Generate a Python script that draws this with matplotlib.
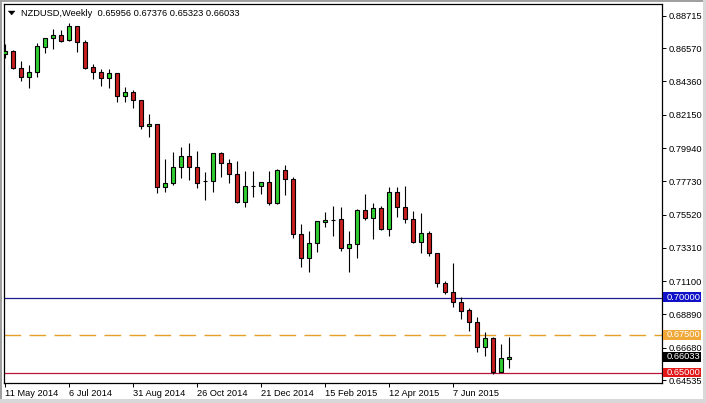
#!/usr/bin/env python3
# -*- coding: utf-8 -*-
"""NZDUSD weekly candles, MT4 style, with three horizontal levels."""
import matplotlib
matplotlib.use("Agg")
import matplotlib.pyplot as plt
import matplotlib.transforms as mtransforms
from matplotlib.patches import Rectangle, Polygon

plt.rcParams["font.family"] = ["Liberation Sans", "DejaVu Sans"]

# weekly OHLC (week 0 = 11 May 2014)
opens = [0.8616, 0.8638, 0.8523, 0.8467, 0.8501, 0.8667, 0.8722, 0.8742, 0.8709, 0.8802,
         0.8696, 0.8530, 0.8501, 0.8457, 0.8490, 0.8337, 0.8364, 0.8311, 0.8138, 0.8151,
         0.7737, 0.7760, 0.7866, 0.7941, 0.7866, 0.7776, 0.7777, 0.7959, 0.7892, 0.7819,
         0.7637, 0.7741, 0.7742, 0.7766, 0.7627, 0.7848, 0.7786, 0.7423, 0.7262, 0.7361,
         0.7501, 0.7515, 0.7521, 0.7328, 0.7355, 0.7582, 0.7531, 0.7594, 0.7454, 0.7700,
         0.7604, 0.7521, 0.7372, 0.7428, 0.7295, 0.7100, 0.7040, 0.6969, 0.6918, 0.6837,
         0.6675, 0.6730, 0.6509, 0.65956]
highs = [0.8683, 0.8645, 0.8572, 0.8545, 0.8689, 0.8726, 0.8784, 0.8776, 0.8822, 0.8806,
         0.8709, 0.8552, 0.8519, 0.8517, 0.8494, 0.8399, 0.8379, 0.8316, 0.8218, 0.8153,
         0.7921, 0.7967, 0.8003, 0.8025, 0.7974, 0.7833, 0.7963, 0.7965, 0.7921, 0.7908,
         0.7843, 0.7843, 0.7768, 0.7841, 0.7853, 0.7881, 0.7803, 0.7489, 0.7443, 0.7511,
         0.7567, 0.7609, 0.7604, 0.7443, 0.7587, 0.7689, 0.7627, 0.7607, 0.7735, 0.7735,
         0.7742, 0.7576, 0.7562, 0.7441, 0.7299, 0.7111, 0.7228, 0.7003, 0.6934, 0.6874,
         0.6770, 0.6737, 0.6691, 0.67376]
lows = [0.8590, 0.8517, 0.8441, 0.8390, 0.8467, 0.8627, 0.8649, 0.8700, 0.8707, 0.8633,
        0.8519, 0.8450, 0.8408, 0.8394, 0.8301, 0.8297, 0.8258, 0.8118, 0.8065, 0.7693,
        0.7704, 0.7750, 0.7797, 0.7782, 0.7730, 0.7649, 0.7704, 0.7799, 0.7760, 0.7631,
        0.7600, 0.7671, 0.7687, 0.7616, 0.7622, 0.7682, 0.7394, 0.7206, 0.7173, 0.7305,
        0.7471, 0.7412, 0.7313, 0.7171, 0.7266, 0.7518, 0.7388, 0.7452, 0.7410, 0.7533,
        0.7499, 0.7365, 0.7299, 0.7275, 0.7069, 0.7023, 0.6940, 0.6857, 0.6781, 0.6641,
        0.6613, 0.6493, 0.6507, 0.65323]
closes = [0.8638, 0.8523, 0.8467, 0.8501, 0.8669, 0.8722, 0.8742, 0.8706, 0.8802, 0.8696,
          0.8527, 0.8501, 0.8457, 0.8490, 0.8337, 0.8364, 0.8311, 0.8140, 0.8153, 0.7737,
          0.7760, 0.7866, 0.7941, 0.7870, 0.7764, 0.7778, 0.7959, 0.7892, 0.7819, 0.7635,
          0.7742, 0.7743, 0.7766, 0.7627, 0.7848, 0.7786, 0.7423, 0.7262, 0.7361, 0.7509,
          0.7516, 0.7517, 0.7328, 0.7355, 0.7582, 0.7531, 0.7594, 0.7454, 0.7700, 0.7604,
          0.7521, 0.7372, 0.7428, 0.7295, 0.7100, 0.7040, 0.6969, 0.6914, 0.6837, 0.6675,
          0.6730, 0.6509, 0.6598, 0.66033]

date_weeks = [0, 8, 16, 24, 32, 40, 48, 56]
date_labels = ["11 May 2014", "6 Jul 2014", "31 Aug 2014", "26 Oct 2014",
               "21 Dec 2014", "15 Feb 2015", "12 Apr 2015", "7 Jun 2015"]
price_ticks = [0.88715, 0.86570, 0.84360, 0.82150, 0.79940, 0.77730,
               0.75520, 0.73310, 0.71100, 0.68890, 0.66680, 0.64535]
level_blue = 0.70
level_orange = 0.675
level_red = 0.65

GREEN = "#2fcf2f"
RED = "#c81e1e"
FS = 6.7

W, H = 706, 403
fig = plt.figure(figsize=(W / 100, H / 100), dpi=100)
fig.patch.set_facecolor("white")
ax = fig.add_axes([4 / W, 1 - 383 / H, (662 - 4) / W, (383 - 4) / H])

n = len(opens)
xs = list(range(n))

# wicks then bodies
ax.vlines(xs, lows, highs, color="black", lw=0.8, zorder=2)
bottoms = [min(o, c) for o, c in zip(opens, closes)]
heights = [max(abs(c - o), 0.00004) for o, c in zip(opens, closes)]
colors = [GREEN if c >= o else RED for o, c in zip(opens, closes)]
ax.bar(xs, heights, bottom=bottoms, width=0.62, color=colors,
       edgecolor="black", linewidth=0.8, zorder=3)

# horizontal levels
ax.axhline(level_blue, color="#1c1c8c", lw=0.9, zorder=1)
ax.axhline(level_orange, color="#e4a028", lw=1.0, zorder=1,
           linestyle=(0, (12, 6)))
ax.axhline(level_red, color="#b8163a", lw=0.9, zorder=1)

ax.set_xlim(-0.125, 82.125)
ax.set_ylim(0.64336, 0.89502)

for s in ax.spines.values():
    s.set_color("black")
    s.set_linewidth(0.9)

ax.yaxis.tick_right()
ax.set_yticks(price_ticks)
ax.set_yticklabels([f"{p:.5f}" for p in price_ticks])
ax.tick_params(axis="y", direction="out", length=3, width=0.7, pad=1.5,
               labelsize=FS, colors="black")
ax.set_xticks(date_weeks)
ax.set_xticklabels(date_labels)
for lab in ax.get_xticklabels():
    lab.set_horizontalalignment("left")
ax.tick_params(axis="x", direction="out", length=3, width=0.7, pad=1.5,
               labelsize=FS, colors="black")

# price tags on the right scale
tag_trans = mtransforms.blended_transform_factory(ax.transAxes, ax.transData)
tag_h = 9.5 / 1506
tag_w = (701 - 663) / 658
for price, bg in [(level_blue, "#1010c8"), (level_orange, "#f0a838"),
                  (closes[-1], "black"), (level_red, "#e01818")]:
    ax.add_patch(Rectangle((1.0015, price - tag_h / 2 + 0.0003), tag_w, tag_h,
                           transform=tag_trans, facecolor=bg, edgecolor="none",
                           clip_on=False, zorder=5))
    ax.text(1.0015 + 4 / 658, price + 0.0003, f"{price:.5f}", transform=tag_trans,
            ha="left", va="center", color="white", fontsize=FS, zorder=6,
            clip_on=False)

# header: menu triangle + symbol and last OHLC
fig.add_artist(Polygon([[8.3 / W, 1 - 11 / H], [15 / W, 1 - 11 / H], [11.65 / W, 1 - 15 / H]],
                       closed=True, facecolor="black", edgecolor="black", lw=0.3,
                       transform=fig.transFigure))
fig.text(21 / W, 1 - 16.5 / H,
         "NZDUSD,Weekly  {:.5f} {:.5f} {:.5f} {:.5f}".format(
             opens[-1], highs[-1], lows[-1], closes[-1]),
         fontsize=FS, color="black", ha="left", va="baseline")

# window frame
fig.add_artist(Rectangle((0, 1 - 2 / H), 1, 2 / H, transform=fig.transFigure,
                         facecolor="#a0a0a0", edgecolor="none"))
fig.add_artist(Rectangle((0, 0), 2 / W, 1, transform=fig.transFigure,
                         facecolor="#a0a0a0", edgecolor="none"))
fig.add_artist(Rectangle((0, 0), 1, 4 / H, transform=fig.transFigure,
                         facecolor="#d8d8d8", edgecolor="none"))
fig.add_artist(Rectangle((1 - 3 / W, 0), 3 / W, 1, transform=fig.transFigure,
                         facecolor="#d8d8d8", edgecolor="none"))

fig.savefig("out.png", dpi=100)
plt.close(fig)
